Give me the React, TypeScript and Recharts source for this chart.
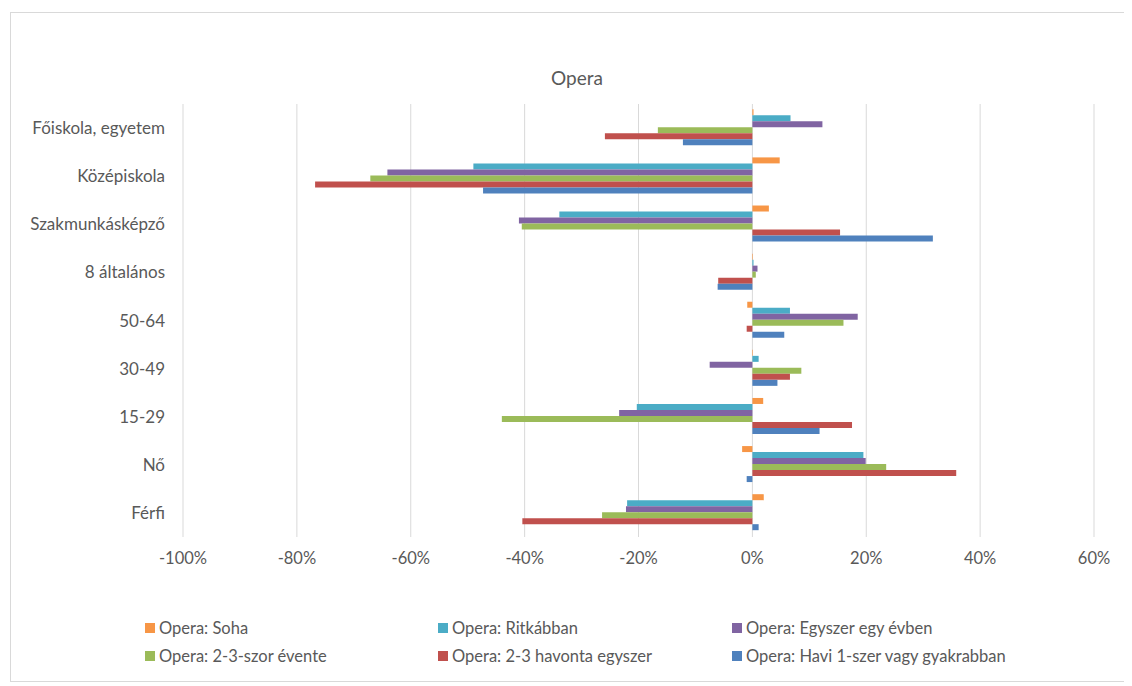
import { BarChart, Bar, XAxis, YAxis, CartesianGrid, Legend } from "recharts";

// Categories, top to bottom as they appear in the chart
const categories = [
  "Főiskola, egyetem",
  "Középiskola",
  "Szakmunkásképző",
  "8 általános",
  "50-64",
  "30-49",
  "15-29",
  "Nő",
  "Férfi",
];

// Series values in %, same order as categories
const soha = [0.2, 4.8, 2.9, 0.1, -0.9, 0.1, 1.9, -1.8, 2.0];
const ritkabban = [6.7, -49.0, -33.9, 0.2, 6.6, 1.1, -20.3, 19.5, -22.0];
const egyszer = [12.3, -64.1, -41.0, 0.9, 18.5, -7.5, -23.4, 19.9, -22.2];
const szorEvente = [-16.6, -67.1, -40.5, 0.6, 16.0, 8.6, -44.0, 23.5, -26.4];
const havonta = [-25.9, -76.8, 15.4, -6.0, -1.0, 6.6, 17.5, 35.8, -40.4];
const havi = [-12.2, -47.3, 31.7, -6.1, 5.6, 4.4, 11.8, -1.0, 1.1];

const xTicks = [-100, -80, -60, -40, -20, 0, 20, 40, 60];

const series = [
  { key: "soha", name: "Opera: Soha", color: "#F79646", values: soha },
  { key: "ritkabban", name: "Opera: Ritkábban", color: "#4BACC6", values: ritkabban },
  { key: "egyszer", name: "Opera: Egyszer egy évben", color: "#8064A2", values: egyszer },
  { key: "szorEvente", name: "Opera: 2-3-szor évente", color: "#9BBB59", values: szorEvente },
  { key: "havonta", name: "Opera: 2-3 havonta egyszer", color: "#C0504D", values: havonta },
  { key: "havi", name: "Opera: Havi 1-szer vagy gyakrabban", color: "#4F81BD", values: havi },
];

const data = categories.map((name, i) => {
  const row: Record<string, string | number> = { name };
  series.forEach((s) => {
    row[s.key] = s.values[i];
  });
  return row;
});

const FONT = "Lato, 'Open Sans', sans-serif";
const TEXT = "#595959";

// legend laid out in 3 columns x 2 rows like the Excel one
const legendCols = [134, 427, 721];

function ExcelLegend() {
  return (
    <div style={{ position: "relative", width: 1114, height: 55 }}>
      {series.map((s, i) => (
        <div
          key={s.key}
          style={{
            position: "absolute",
            left: legendCols[i % 3],
            top: i < 3 ? 3 : 31,
            display: "flex",
            alignItems: "center",
            fontFamily: FONT,
            fontSize: 16.5,
            color: TEXT,
            whiteSpace: "nowrap",
          }}
        >
          <span
            style={{
              display: "inline-block",
              width: 10,
              height: 10,
              background: s.color,
              marginRight: 4,
            }}
          />
          {s.name}
        </div>
      ))}
    </div>
  );
}

export default function App() {
  return (
    <div
      style={{
        position: "relative",
        width: 1114,
        height: 668,
        marginLeft: 2,
        marginTop: 4,
        border: "1px solid #d9d9d9",
        background: "#fff",
      }}
    >
      <div
        style={{
          position: "absolute",
          top: 53,
          left: 0,
          width: 1132,
          textAlign: "center",
          fontFamily: FONT,
          fontSize: 19,
          color: TEXT,
          pointerEvents: "none",
        }}
      >
        Opera
      </div>
      <BarChart
        width={1114}
        height={668}
        data={data}
        layout="vertical"
        margin={{ top: 91, right: 31, bottom: 11, left: 0 }}
        barCategoryGap="11%"
        barGap={0}
      >
        <CartesianGrid horizontal={false} stroke="#d9d9d9" />
        <XAxis
          type="number"
          domain={[-100, 60]}
          ticks={xTicks}
          tickFormatter={(v) => `${v}%`}
          axisLine={false}
          tickLine={false}
          tickSize={0}
          tickMargin={15}
          height={78}
          interval={0}
          tick={{ fill: TEXT, fontSize: 16.5, fontFamily: FONT }}
        />
        <YAxis
          type="category"
          dataKey="name"
          width={172}
          axisLine={false}
          tickLine={false}
          tickSize={0}
          tickMargin={18}
          interval={0}
          tick={{ fill: TEXT, fontSize: 17, fontFamily: FONT }}
        />
        {series.map((s) => (
          <Bar
            key={s.key}
            dataKey={s.key}
            name={s.name}
            fill={s.color}
            isAnimationActive={false}
          />
        ))}
        <Legend
          verticalAlign="bottom"
          content={() => <ExcelLegend />}
          wrapperStyle={{ left: 0, width: 1114, height: 55 }}
        />
      </BarChart>
    </div>
  );
}
